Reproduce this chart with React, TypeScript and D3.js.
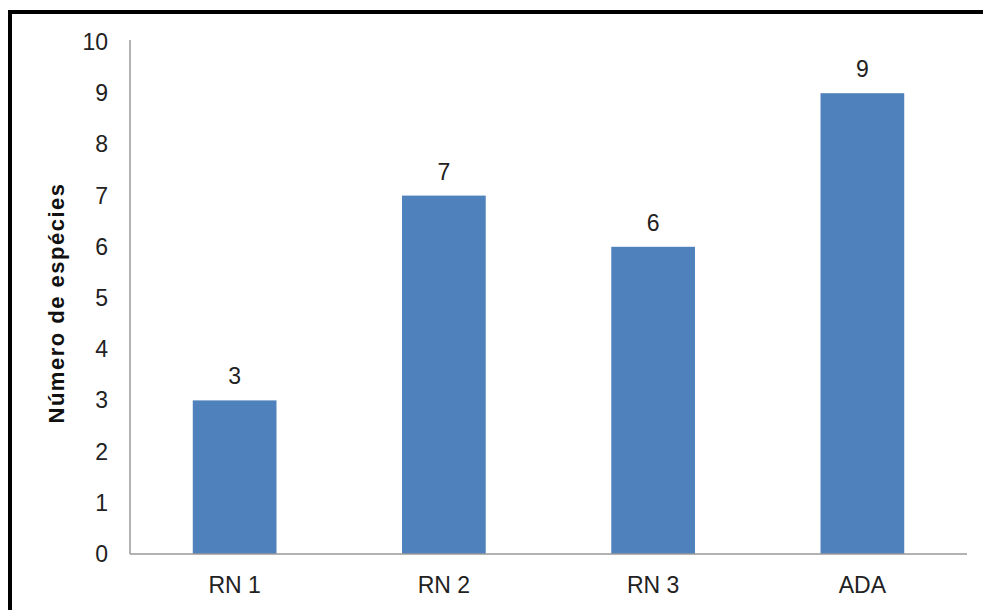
import React from "react";
import * as d3 from "d3";

const categories = ["RN 1", "RN 2", "RN 3", "ADA"];
const values = [3, 7, 6, 9];
const yTicks = [0, 1, 2, 3, 4, 5, 6, 7, 8, 9, 10];
const yTitle = "Número de espécies";

export default function App() {
  const W = 983, H = 610;
  const left = 130, right = 967, top = 42, bottom = 554;
  const x = d3.scaleBand<string>().domain(categories).range([left, right]).paddingInner(0.6).paddingOuter(0.3);
  const y = d3.scaleLinear().domain([0, 10]).range([bottom, top]);
  const font = "'Liberation Sans', Arial, sans-serif";
  const fs = 23;
  return (
    <svg width={W} height={H} style={{ position: "absolute", left: 0, top: 0, background: "#fff" }} fontFamily={font}>
      <rect x={0} y={0} width={W} height={H} fill="#fff" />
      <path d={`M10,${H} L10,12 L${W},12`} fill="none" stroke="#000" strokeWidth={4} />
      {categories.map((c, i) => (
        <g key={c}>
          <rect x={x(c)} y={y(values[i])} width={x.bandwidth()} height={y(0) - y(values[i])} fill="#4F81BD" />
          <text x={(x(c) as number) + x.bandwidth() / 2} y={y(values[i]) - 16} textAnchor="middle" fontSize={fs} fill="#222">{values[i]}</text>
          <text x={(x(c) as number) + x.bandwidth() / 2} y={593} textAnchor="middle" fontSize={fs} fill="#222">{c}</text>
        </g>
      ))}
      <line x1={left} x2={left} y1={top - 2} y2={bottom} stroke="#999" strokeWidth={1.5} />
      <line x1={left} x2={right} y1={bottom} y2={bottom} stroke="#999" strokeWidth={1.5} />
      {yTicks.map((t) => (
        <text key={t} x={108} y={y(t) + 8} textAnchor="end" fontSize={fs} fill="#222">{t}</text>
      ))}
      <text transform={`translate(64,${(top + bottom) / 2 + 5}) rotate(-90)`} textAnchor="middle" fontSize={22} fontWeight="bold" letterSpacing={1.5} fill="#111">{yTitle}</text>
    </svg>
  );
}
